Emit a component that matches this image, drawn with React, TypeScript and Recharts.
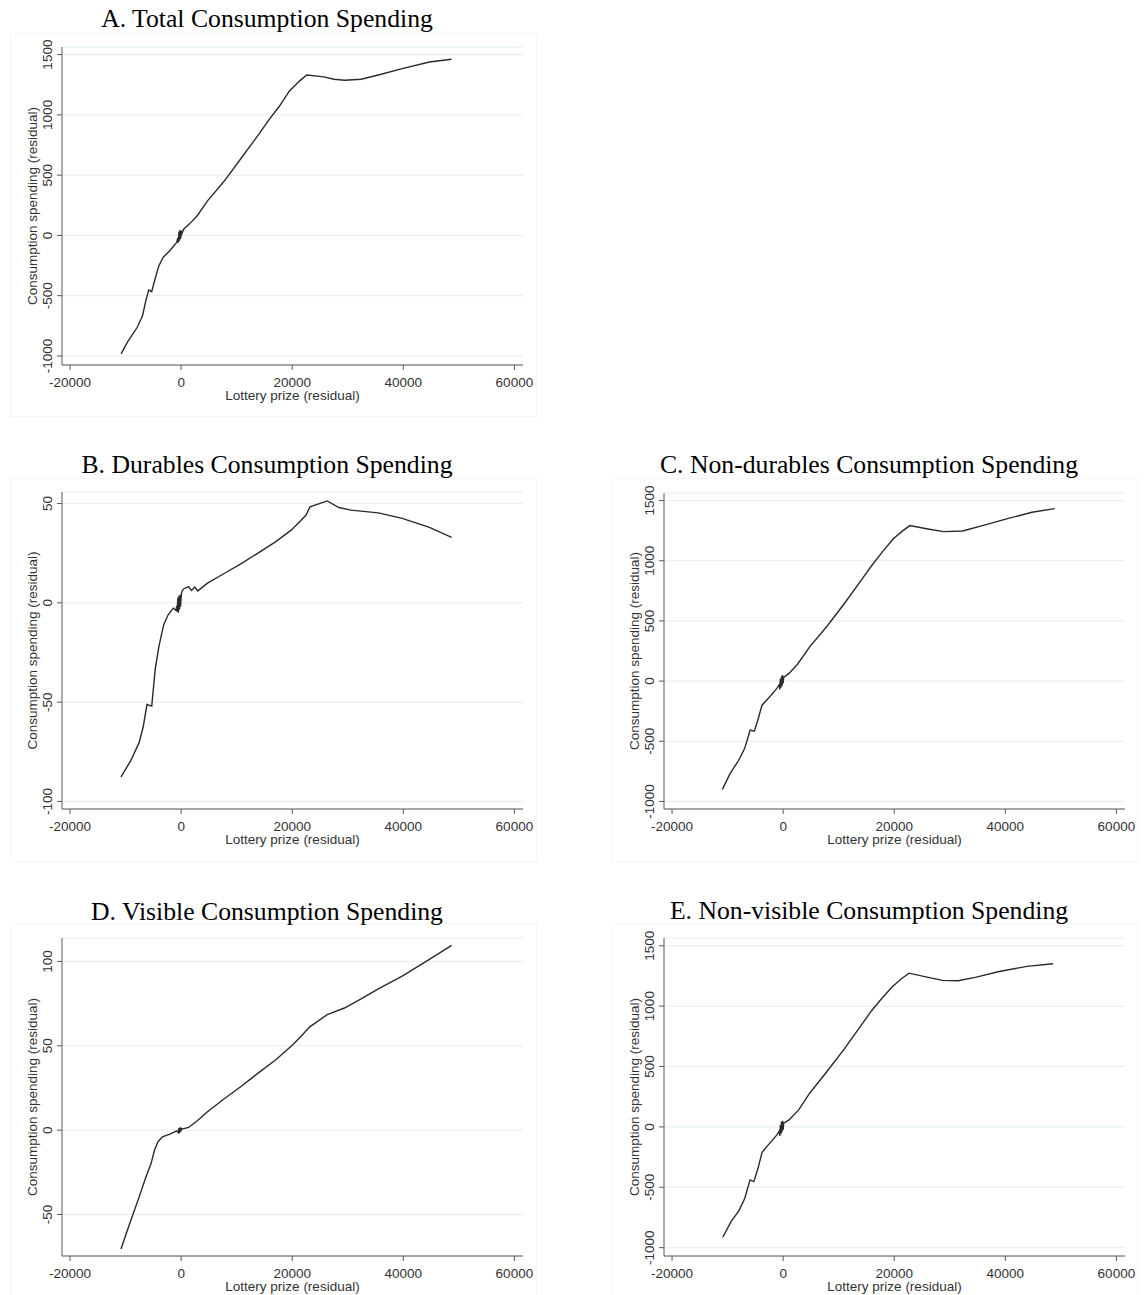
import React from "react";
import { LineChart, Line, XAxis, YAxis, CartesianGrid, Label } from "recharts";

// x-axis ticks shared by every panel
const xTicks = [-20000, 0, 20000, 40000, 60000];
const bigTicks = [-1000, -500, 0, 500, 1000, 1500];
const durTicks = [-100, -50, 0, 50];
const visTicks = [-50, 0, 50, 100];

// A. Total
const totalX = [-10800, -9700, -7900, -6950, -6350, -5850, -5300, -4700, -4000, -3250, -2050, -800, -600, -500, -400, -300, -200, -100, 0, 100, 450, 1650, 2900, 4750, 7800, 10900, 14000, 15800, 17650, 19500, 21350, 22600, 25700, 27500, 29400, 32400, 35500, 39800, 44700, 48700];
const totalY = [-983, -887, -762, -666, -541, -453, -467, -362, -251, -182, -127, -58, -20, -60, 30, -45, 45, -30, 40, 10, 52, 102, 163, 287, 453, 646, 840, 959, 1069, 1199, 1282, 1331, 1315, 1296, 1287, 1296, 1331, 1384, 1439, 1461];

// B. Durables
const durX = [-10830, -9100, -7570, -6830, -6150, -5290, -4680, -4000, -3140, -2340, -1420, -900, -800, -700, -600, -500, -400, -300, -200, -100, 0, 100, 430, 1350, 1850, 2460, 3000, 4740, 7820, 10900, 13970, 17050, 19800, 21350, 22460, 23200, 26300, 28400, 30600, 35500, 39800, 44700, 48700];
const durY = [-87.6, -79.6, -70.4, -62.4, -51.2, -52.0, -33.6, -21.9, -11.0, -6.0, -2.7, -3.8, -1.5, -4.5, 2.5, -5, 3.5, -3.5, 4, -2, 3, 5.5, 7.0, 8.2, 6.2, 7.9, 6.0, 9.9, 14.9, 19.9, 25.3, 30.8, 36.6, 40.8, 44.1, 48.3, 51.3, 48.0, 46.7, 45.3, 42.5, 38.0, 32.9];

// C. Non-durables
const nondurX = [-10940, -9560, -8000, -6940, -5940, -5190, -4560, -3810, -2690, -1120, -700, -600, -500, -400, -300, -200, -100, 0, 100, 1060, 2620, 4810, 7940, 11060, 14200, 16060, 17940, 19800, 21400, 22800, 26060, 28900, 32300, 36060, 40400, 44800, 48900];
const nondurY = [-900, -769, -658, -561, -408, -417, -325, -200, -144, -61, -30, -70, 20, -55, 40, -40, 50, -20, 30, 64, 142, 286, 458, 647, 847, 967, 1078, 1181, 1244, 1292, 1264, 1242, 1247, 1294, 1350, 1403, 1433];

// D. Visible
const visX = [-10830, -9290, -7570, -6340, -5420, -4800, -4180, -3380, -2030, -800, -500, -400, -300, -200, -100, 0, 100, 300, 1350, 2900, 4740, 7820, 10900, 13970, 17050, 20100, 21700, 23100, 26300, 29400, 32400, 35500, 39800, 44700, 48700];
const visY = [-70.4, -55.6, -39.7, -27.8, -19.8, -11.9, -6.9, -4.0, -2.4, -0.4, -1.5, 1.2, -1.8, 1.5, -1, 1, 0.5, 0.8, 1.6, 5.6, 10.9, 18.8, 26.2, 34.1, 41.7, 50.6, 56.0, 61.1, 68.5, 72.4, 77.8, 83.7, 91.3, 101.2, 109.5];

// E. Non-visible
const nonvisX = [-10870, -9380, -7950, -6900, -5960, -5280, -4530, -3790, -2670, -1120, -700, -600, -500, -400, -300, -200, -100, 0, 100, 1060, 2800, 4780, 7890, 10990, 14100, 15960, 17830, 19700, 21240, 22670, 25900, 28700, 31500, 34600, 38900, 43900, 48600];
const nonvisY = [-914, -785, -693, -591, -439, -453, -343, -210, -149, -66, -35, -75, 15, -60, 45, -45, 50, -25, 30, 58, 141, 279, 459, 644, 845, 964, 1067, 1163, 1224, 1273, 1240, 1213, 1210, 1238, 1287, 1329, 1351];

const SANS = "'Liberation Sans', Arial, sans-serif";
const SERIF = "'Liberation Serif', 'Times New Roman', serif";
const TEXT = "#333";
const AXIS = "#595959";

type Rect = { x: number; y: number; w: number; h: number };
type PanelProps = {
  title: string;
  xs: number[];
  ys: number[];
  yTicks: number[];
  yDomain: [number, number];
  plot: Rect;
  frame: Rect;
  titleCx: number;
  titleBase: number;
};

const YTick = (props: any) => {
  const { x, y, payload } = props;
  return (
    <text
      x={x}
      y={y}
      transform={`rotate(-90 ${x} ${y})`}
      textAnchor="middle"
      fill={TEXT}
      fontSize={13.5}
      fontFamily={SANS}
    >
      {payload.value}
    </text>
  );
};

const Panel: React.FC<PanelProps> = ({ title, xs, ys, yTicks, yDomain, plot, frame, titleCx, titleBase }) => {
  const data = xs.map((x, i) => ({ x, y: ys[i] }));
  const ml = 12, mt = 10, mr = 12, yw = 50, xh = 45;
  const left = plot.x - ml - yw;
  const top = plot.y - mt;
  return (
    <>
      {/* faint graph-region frame */}
      <div
        style={{
          position: "absolute",
          left: frame.x,
          top: frame.y,
          width: frame.w,
          height: frame.h,
          border: "1px solid #f5f7f7",
          boxSizing: "border-box",
        }}
      />
      <div
        style={{
          position: "absolute",
          left: titleCx - 300,
          width: 600,
          top: titleBase - 21.5,
          textAlign: "center",
          fontFamily: SERIF,
          fontSize: 25.7,
          lineHeight: "25.7px",
          color: "#000",
        }}
      >
        {title}
      </div>
      <div style={{ position: "absolute", left, top }}>
        <LineChart
          width={plot.w + ml + yw + mr}
          height={plot.h + mt + xh}
          data={data}
          margin={{ top: mt, right: mr, left: ml, bottom: 0 }}
        >
          <CartesianGrid horizontal vertical={false} stroke="#e4eeee" strokeWidth={1} />
          <XAxis
            type="number"
            dataKey="x"
            domain={[-21450, 61550]}
            ticks={xTicks}
            allowDataOverflow
            height={xh}
            tickSize={5}
            tickMargin={7}
            stroke={AXIS}
            axisLine={{ stroke: AXIS }}
            tickLine={{ stroke: AXIS }}
            tick={{ fill: TEXT, fontSize: 13.5, fontFamily: SANS }}
            interval={0}
          >
            <Label
              value="Lottery prize (residual)"
              position="insideBottom"
              offset={10.5}
              style={{ fill: TEXT, fontSize: 13.5, fontFamily: SANS, textAnchor: "middle" }}
            />
          </XAxis>
          <YAxis
            type="number"
            domain={yDomain}
            ticks={yTicks}
            allowDataOverflow
            width={yw}
            tickSize={5}
            tickMargin={5}
            stroke={AXIS}
            axisLine={{ stroke: AXIS }}
            tickLine={{ stroke: AXIS }}
            tick={<YTick />}
            interval={0}
          >
            <Label
              value="Consumption spending (residual)"
              angle={-90}
              position="insideLeft"
              offset={20}
              style={{ fill: TEXT, fontSize: 13.5, fontFamily: SANS, textAnchor: "middle" }}
            />
          </YAxis>
          <Line
            type="linear"
            dataKey="y"
            stroke="#2a2a2a"
            strokeWidth={1.4}
            dot={false}
            isAnimationActive={false}
          />
        </LineChart>
      </div>
    </>
  );
};

export default function App() {
  return (
    <div
      style={{
        position: "absolute",
        left: 0,
        top: 0,
        width: 1146,
        height: 1295,
        background: "#fff",
        overflow: "hidden",
      }}
    >
      <Panel
        title="A. Total Consumption Spending"
        xs={totalX}
        ys={totalY}
        yTicks={bigTicks}
        yDomain={[-1075, 1563]}
        plot={{ x: 62, y: 47, w: 461, h: 318 }}
        frame={{ x: 10, y: 33, w: 527, h: 384 }}
        titleCx={267}
        titleBase={27.5}
      />
      <Panel
        title="B. Durables Consumption Spending"
        xs={durX}
        ys={durY}
        yTicks={durTicks}
        yDomain={[-103.8, 55.8]}
        plot={{ x: 62, y: 492, w: 461, h: 317 }}
        frame={{ x: 10, y: 478, w: 527, h: 384 }}
        titleCx={267}
        titleBase={473.3}
      />
      <Panel
        title="C. Non-durables Consumption Spending"
        xs={nondurX}
        ys={nondurY}
        yTicks={bigTicks}
        yDomain={[-1063, 1563]}
        plot={{ x: 664, y: 493, w: 461, h: 316 }}
        frame={{ x: 612, y: 478, w: 526, h: 384 }}
        titleCx={869}
        titleBase={473.3}
      />
      <Panel
        title="D. Visible Consumption Spending"
        xs={visX}
        ys={visY}
        yTicks={visTicks}
        yDomain={[-74.6, 113.9]}
        plot={{ x: 62, y: 938, w: 461, h: 318 }}
        frame={{ x: 10, y: 923, w: 527, h: 384 }}
        titleCx={267}
        titleBase={920}
      />
      <Panel
        title="E. Non-visible Consumption Spending"
        xs={nonvisX}
        ys={nonvisY}
        yTicks={bigTicks}
        yDomain={[-1069, 1564]}
        plot={{ x: 664, y: 938, w: 461, h: 318 }}
        frame={{ x: 612, y: 923, w: 526, h: 384 }}
        titleCx={869}
        titleBase={919.3}
      />
    </div>
  );
}
